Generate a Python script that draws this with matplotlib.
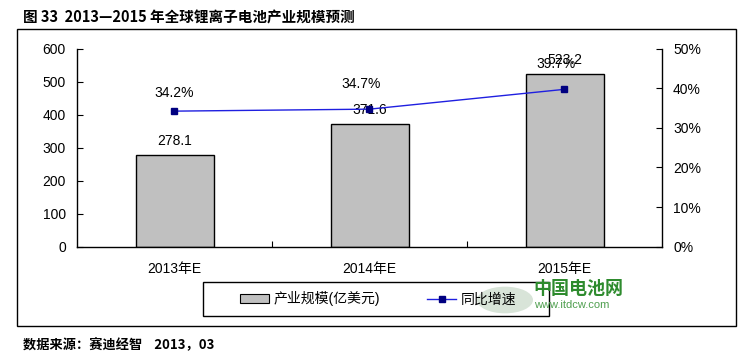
import matplotlib
matplotlib.use("Agg")
import matplotlib.pyplot as plt
from matplotlib.patches import Rectangle, Circle
from matplotlib.lines import Line2D
from matplotlib.ticker import FixedLocator, PercentFormatter

plt.rcParams['font.family'] = ['Liberation Sans', 'Noto Sans CJK SC', 'DejaVu Sans']

categories = ['2013年E', '2014年E', '2015年E']
scale_values = [278.1, 371.6, 523.2]
growth_pct = [34.2, 34.7, 39.7]
bar_label = '产业规模(亿美元)'
line_label = '同比增速'
title = '图 33  2013—2015 年全球锂离子电池产业规模预测'
source = '数据来源：赛迪经智    2013，03'

fig = plt.figure(figsize=(7.56, 3.6), dpi=100)
W, H = 756, 360

def fx(px):
    return px / W

def fy(py):
    return 1 - py / H

ax = fig.add_axes([fx(77), fy(246.7), fx(662) - fx(77), fy(48.5) - fy(246.7)])
ax2 = ax.twinx()

x = list(range(len(categories)))
ax.bar(x, scale_values, width=0.4, color='#C0C0C0', edgecolor='black', linewidth=1.0, zorder=2)
ax.set_xlim(-0.5, len(categories) - 0.5)
ax.set_ylim(0, 600)
ax.set_yticks(range(0, 601, 100))
ax.set_xticks(x)
ax.set_xticklabels(categories, fontsize=10)
ax.xaxis.set_minor_locator(FixedLocator([0.5, 1.5]))
ax.tick_params(axis='x', which='major', length=0, pad=11)
ax.tick_params(axis='x', which='minor', direction='in', length=4, width=0.8)
ax.tick_params(axis='y', direction='in', length=4, width=0.8, labelsize=10, pad=8)
for s in ['top', 'right']:
    ax.spines[s].set_visible(False)
for s in ['left', 'bottom']:
    ax.spines[s].set_linewidth(1.0)

for xi, v in zip(x, scale_values):
    ax.annotate(f'{v:.1f}', (xi, v), xytext=(0, 10), textcoords='offset points',
                ha='center', va='center', fontsize=10, zorder=5)

ax2.plot(x, growth_pct, color='#1F1FE0', linewidth=1.0, marker='s', markersize=5,
         markerfacecolor='#000080', markeredgecolor='#000080', zorder=4)
ax2.set_ylim(0, 50)
ax2.set_yticks(range(0, 51, 10))
ax2.yaxis.set_major_formatter(PercentFormatter(decimals=0))
ax2.tick_params(axis='y', direction='in', length=4, width=0.8, labelsize=10, pad=8)
for s in ['top', 'left', 'bottom']:
    ax2.spines[s].set_visible(False)
ax2.spines['right'].set_linewidth(1.0)

pct_offsets = [(0, 13), (-6, 18), (-6, 18)]
for xi, v, off in zip(x, growth_pct, pct_offsets):
    ax2.annotate(f'{v:.1f}%', (xi, v), xytext=off, textcoords='offset points',
                 ha='center', va='center', fontsize=10, zorder=5)

# outer frame
fig.patches.append(Rectangle((fx(17), fy(326)), fx(736) - fx(17), fy(29) - fy(326),
                             transform=fig.transFigure, fill=False, edgecolor='black', linewidth=1.0))
# legend frame
fig.patches.append(Rectangle((fx(203), fy(316)), fx(549) - fx(203), fy(282) - fy(316),
                             transform=fig.transFigure, fill=False, edgecolor='black', linewidth=1.0))

handles = [Rectangle((0, 0), 1, 1, facecolor='#C0C0C0', edgecolor='black', linewidth=0.8),
           Line2D([0], [0], color='#1F1FE0', linewidth=1.0, marker='s', markersize=5,
                  markerfacecolor='#000080', markeredgecolor='#000080')]
fig.legend(handles, [bar_label, line_label], loc='center', bbox_to_anchor=(fx(378), fy(299)),
           ncol=2, frameon=False, fontsize=10, handlelength=2.1, handleheight=0.6,
           columnspacing=3.4, handletextpad=0.3)

# watermark
fig.patches.append(Circle((fx(505), fy(300)), 28 / W, transform=fig.transFigure,
                          facecolor='#7FA87F', alpha=0.3, edgecolor='none'))
fig.text(fx(533), fy(288), '中国电池网', fontsize=13, fontweight='bold', color='#2E8B2E',
         ha='left', va='center', family=['Noto Sans CJK SC'])
fig.text(fx(534), fy(305), 'www.itdcw.com', fontsize=8, color='#4F9F4F', ha='left', va='center')

fig.text(fx(23), fy(17), title, fontsize=10.5, fontweight='bold', ha='left', va='center',
         family=['Noto Sans CJK SC', 'DejaVu Sans'])
fig.text(fx(23), fy(345), source, fontsize=9.5, fontweight='bold', ha='left', va='center',
         family=['Noto Sans CJK SC', 'DejaVu Sans'])

fig.savefig('out.png', dpi=100)
